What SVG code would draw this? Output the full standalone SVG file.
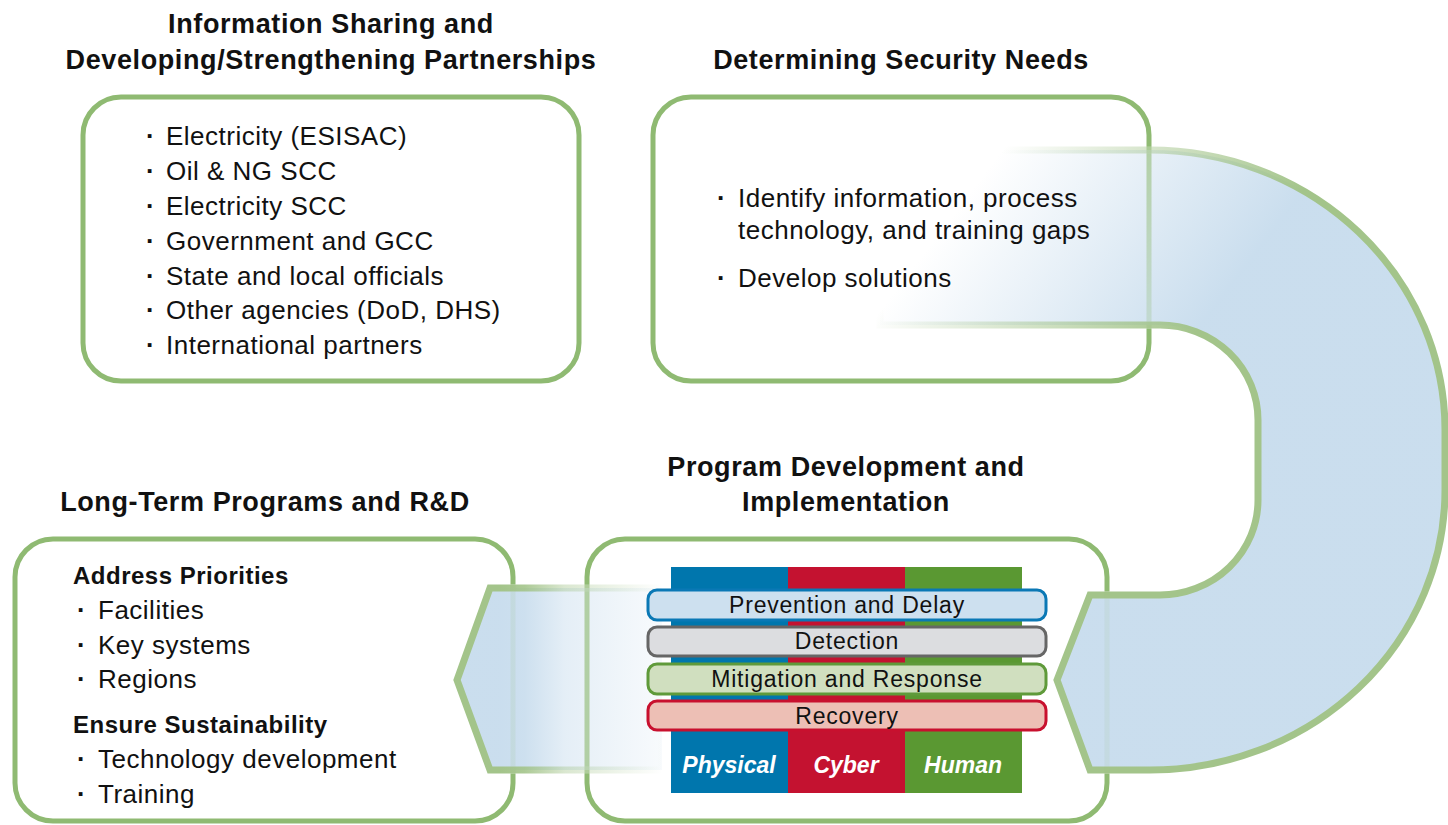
<svg xmlns="http://www.w3.org/2000/svg" xmlns:xlink="http://www.w3.org/1999/xlink" width="1448" height="825" viewBox="0 0 1448 825">
<style>
.box{fill:none;stroke:#8fba72;stroke-width:5}
.title{font-family:"Liberation Sans",Arial,sans-serif;font-weight:bold;font-size:27px;fill:#111;text-anchor:middle;letter-spacing:0.6px}
.body{font-family:"Liberation Sans",Arial,sans-serif;font-size:26px;fill:#111;letter-spacing:0.5px}
.dot{font-weight:bold}
.head{font-family:"Liberation Sans",Arial,sans-serif;font-weight:bold;font-size:24px;fill:#111;letter-spacing:0.5px}
.bar{stroke-width:3}
.barText{font-family:"Liberation Sans",Arial,sans-serif;font-size:23px;fill:#111;text-anchor:middle;letter-spacing:0.8px}
.col{font-family:"Liberation Sans",Arial,sans-serif;font-size:23px;font-weight:bold;font-style:italic;fill:#fff;text-anchor:middle}
</style>
<defs>
<path id="uShape" d="M 880 150 L 1150 150 A 295 280 0 0 1 1445 430 L 1445 490 A 295 280 0 0 1 1150 770 L 1090 770 L 1057 680 L 1090 595 L 1160 595 A 98 95 0 0 0 1258 500 L 1258 420 A 98 95 0 0 0 1160 325 L 880 325 Z"/>
<path id="lShape" d="M 662 588 L 490 588 L 457 680 L 490 770 L 662 770 Z"/>
<linearGradient id="gU" gradientUnits="userSpaceOnUse" x1="1010" y1="140" x2="1220" y2="300">
<stop offset="0" stop-color="#c4daec" stop-opacity="0"/><stop offset="1" stop-color="#c4daec" stop-opacity="0.9"/></linearGradient>
<linearGradient id="gUs" gradientUnits="userSpaceOnUse" x1="1010" y1="140" x2="1220" y2="300">
<stop offset="0" stop-color="#a3c48a" stop-opacity="0"/><stop offset="1" stop-color="#a3c48a" stop-opacity="1"/></linearGradient>
<linearGradient id="gUk" gradientUnits="userSpaceOnUse" x1="1010" y1="140" x2="1220" y2="300">
<stop offset="0" stop-color="#000" stop-opacity="0"/><stop offset="1" stop-color="#000" stop-opacity="0.9"/></linearGradient>
<linearGradient id="gL" gradientUnits="userSpaceOnUse" x1="500" y1="0" x2="662" y2="0">
<stop offset="0" stop-color="#c4daec" stop-opacity="0.9"/><stop offset="0.15" stop-color="#c4daec" stop-opacity="0.85"/><stop offset="0.4" stop-color="#c4daec" stop-opacity="0.45"/><stop offset="1" stop-color="#c4daec" stop-opacity="0.12"/></linearGradient>
<linearGradient id="gLs" gradientUnits="userSpaceOnUse" x1="500" y1="0" x2="662" y2="0">
<stop offset="0" stop-color="#a3c48a" stop-opacity="1"/><stop offset="0.15" stop-color="#a3c48a" stop-opacity="0.9"/><stop offset="0.4" stop-color="#a3c48a" stop-opacity="0.4"/><stop offset="1" stop-color="#a3c48a" stop-opacity="0"/></linearGradient>
<linearGradient id="gLk" gradientUnits="userSpaceOnUse" x1="500" y1="0" x2="662" y2="0">
<stop offset="0" stop-color="#000" stop-opacity="0.9"/><stop offset="0.15" stop-color="#000" stop-opacity="0.85"/><stop offset="0.4" stop-color="#000" stop-opacity="0.45"/><stop offset="1" stop-color="#000" stop-opacity="0.12"/></linearGradient>
<mask id="underArrows" maskUnits="userSpaceOnUse" x="0" y="0" width="1448" height="825">
<rect x="0" y="0" width="1448" height="825" fill="#fff"/>
<use xlink:href="#uShape" fill="url(#gUk)" stroke="url(#gUk)" stroke-width="7"/>
<use xlink:href="#lShape" fill="url(#gLk)" stroke="url(#gLk)" stroke-width="7"/>
</mask>
</defs>
<rect x="0" y="0" width="1448" height="825" fill="#fff"/>

<g id="connectors">
<use xlink:href="#uShape" fill="url(#gU)" stroke="url(#gUs)" stroke-width="7" stroke-linejoin="miter"/>
<use xlink:href="#lShape" fill="url(#gL)" stroke="url(#gLs)" stroke-width="7" stroke-linejoin="miter"/>
</g>

<g id="node-info-sharing">
<rect class="box" x="83" y="97" width="496" height="284" rx="38" mask="url(#underArrows)"/>
<text class="title" x="331" y="33">Information Sharing and</text>
<text class="title" x="331" y="69">Developing/Strengthening Partnerships</text>
<text class="body" y="145"><tspan class="dot" x="146">·</tspan><tspan x="166">Electricity (ESISAC)</tspan></text>
<text class="body" y="180"><tspan class="dot" x="146">·</tspan><tspan x="166">Oil &amp; NG SCC</tspan></text>
<text class="body" y="215"><tspan class="dot" x="146">·</tspan><tspan x="166">Electricity SCC</tspan></text>
<text class="body" y="250"><tspan class="dot" x="146">·</tspan><tspan x="166">Government and GCC</tspan></text>
<text class="body" y="285"><tspan class="dot" x="146">·</tspan><tspan x="166">State and local officials</tspan></text>
<text class="body" y="319"><tspan class="dot" x="146">·</tspan><tspan x="166">Other agencies (DoD, DHS)</tspan></text>
<text class="body" y="354"><tspan class="dot" x="146">·</tspan><tspan x="166">International partners</tspan></text>
</g>

<g id="node-security-needs">
<rect class="box" x="653" y="97" width="496" height="284" rx="38" mask="url(#underArrows)"/>
<text class="title" x="901" y="69">Determining Security Needs</text>
<text class="body" y="207"><tspan class="dot" x="717">·</tspan><tspan x="738">Identify information, process</tspan></text>
<text class="body" y="239"><tspan x="738">technology, and training gaps</tspan></text>
<text class="body" y="287"><tspan class="dot" x="717">·</tspan><tspan x="738">Develop solutions</tspan></text>
</g>

<g id="node-long-term">
<rect class="box" x="15" y="539" width="498" height="282" rx="38" mask="url(#underArrows)"/>
<text class="title" x="265" y="511">Long-Term Programs and R&amp;D</text>
<text class="head" x="73" y="584">Address Priorities</text>
<text class="body" y="619"><tspan class="dot" x="77">·</tspan><tspan x="98">Facilities</tspan></text>
<text class="body" y="654"><tspan class="dot" x="77">·</tspan><tspan x="98">Key systems</tspan></text>
<text class="body" y="688"><tspan class="dot" x="77">·</tspan><tspan x="98">Regions</tspan></text>
<text class="head" x="73" y="733">Ensure Sustainability</text>
<text class="body" y="768"><tspan class="dot" x="77">·</tspan><tspan x="98">Technology development</tspan></text>
<text class="body" y="803"><tspan class="dot" x="77">·</tspan><tspan x="98">Training</tspan></text>
</g>

<g id="node-program-dev">
<rect class="box" x="587" y="539" width="520" height="282" rx="38" mask="url(#underArrows)"/>
<text class="title" x="846" y="476">Program Development and</text>
<text class="title" x="846" y="511">Implementation</text>
<rect x="671" y="567" width="117" height="226" fill="#0076ad"/>
<rect x="788" y="567" width="117" height="226" fill="#c41230"/>
<rect x="905" y="567" width="117" height="226" fill="#5a9832"/>
<rect class="bar" x="648" y="590" width="398" height="30" rx="9" fill="#cde0ef" stroke="#0a78b5"/>
<text class="barText" x="847" y="613">Prevention and Delay</text>
<rect class="bar" x="648" y="627" width="398" height="29" rx="9" fill="#dcdde0" stroke="#666"/>
<text class="barText" x="847" y="649">Detection</text>
<rect class="bar" x="648" y="664" width="398" height="30" rx="9" fill="#d0dfbf" stroke="#5f9a3a"/>
<text class="barText" x="847" y="687">Mitigation and Response</text>
<rect class="bar" x="648" y="701" width="398" height="29" rx="9" fill="#edbfb5" stroke="#c8102e"/>
<text class="barText" x="847" y="724">Recovery</text>
<text class="col" x="729" y="773">Physical</text>
<text class="col" x="846" y="773">Cyber</text>
<text class="col" x="963" y="773">Human</text>
</g>
</svg>
